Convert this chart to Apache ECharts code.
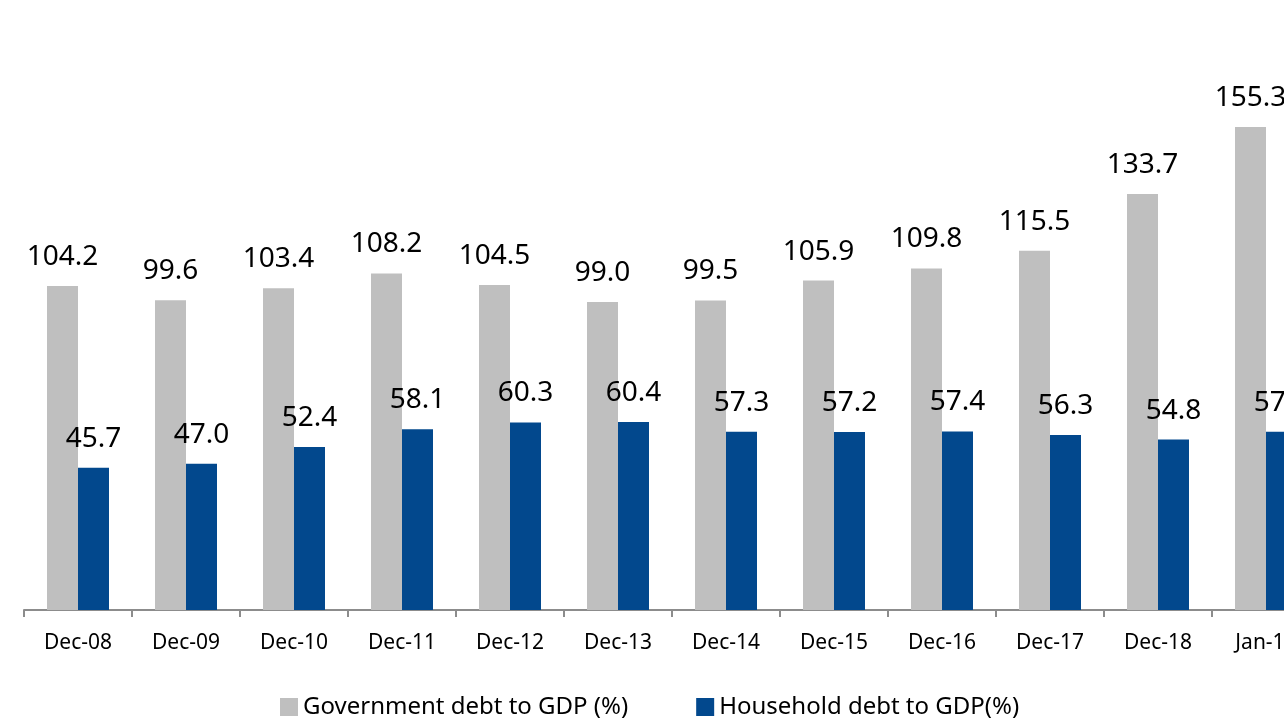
<!DOCTYPE html>
<html>
<head>
<meta charset="utf-8">
<title>Government vs household debt to GDP</title>
<script src="https://cdn.jsdelivr.net/npm/echarts@6/dist/echarts.min.js"></script>
<style>
  html, body { margin: 0; padding: 0; background: #fff; }
  #chart { width: 1284px; height: 724px; }
</style>
</head>
<body>
<div id="chart"></div>
<script>
// categories and values
const months = ['Dec-08', 'Dec-09', 'Dec-10', 'Dec-11', 'Dec-12', 'Dec-13',
                'Dec-14', 'Dec-15', 'Dec-16', 'Dec-17', 'Dec-18', 'Jan-19'];
const govDebt = [104.2, 99.6, 103.4, 108.2, 104.5, 99.0, 99.5, 105.9, 109.8, 115.5, 133.7, 155.3];
const householdDebt = [45.7, 47.0, 52.4, 58.1, 60.3, 60.4, 57.3, 57.2, 57.4, 56.3, 54.8, 57.3];

const FONT = '"Noto Sans", "Open Sans", sans-serif';

const chart = echarts.init(document.getElementById('chart'));

const valueLabel = {
    show: true,
    position: 'top',
    distance: 15,
    fontFamily: FONT,
    fontSize: 28,
    color: '#000',
    formatter: p => p.value.toFixed(1)
};

chart.setOption({
    animation: false,
    legend: {
        left: 275,
        top: 690,
        icon: 'rect',
        itemWidth: 18,
        itemHeight: 18,
        itemGap: 68,
        textStyle: { fontFamily: FONT, fontSize: 24, color: '#000' },
        data: ['Government debt to GDP (%)', 'Household debt to GDP(%)']
    },
    // the plot runs past the right edge, as in the original
    grid: {
        left: 24, width: 1296, top: 19, height: 591,
        containLabel: false, outerBoundsMode: 'none'
    },
    xAxis: {
        type: 'category',
        data: months,
        axisLine: { lineStyle: { color: '#8c8c8c', width: 2 } },
        axisTick: { show: true, length: 7, lineStyle: { color: '#8c8c8c', width: 2 } },
        axisLabel: { fontFamily: FONT, fontSize: 21, color: '#000', margin: 23 }
    },
    yAxis: {
        type: 'value',
        min: 0,
        max: 190,
        show: false,
        splitLine: { show: false }
    },
    series: [
        {
            name: 'Government debt to GDP (%)',
            type: 'bar',
            data: govDebt,
            barWidth: 31,
            barGap: '0%',
            itemStyle: { color: '#bfbfbf' },
            label: valueLabel
        },
        {
            name: 'Household debt to GDP(%)',
            type: 'bar',
            data: householdDebt,
            barWidth: 31,
            itemStyle: { color: '#02488d' },
            label: valueLabel
        }
    ]
});
</script>
</body>
</html>
